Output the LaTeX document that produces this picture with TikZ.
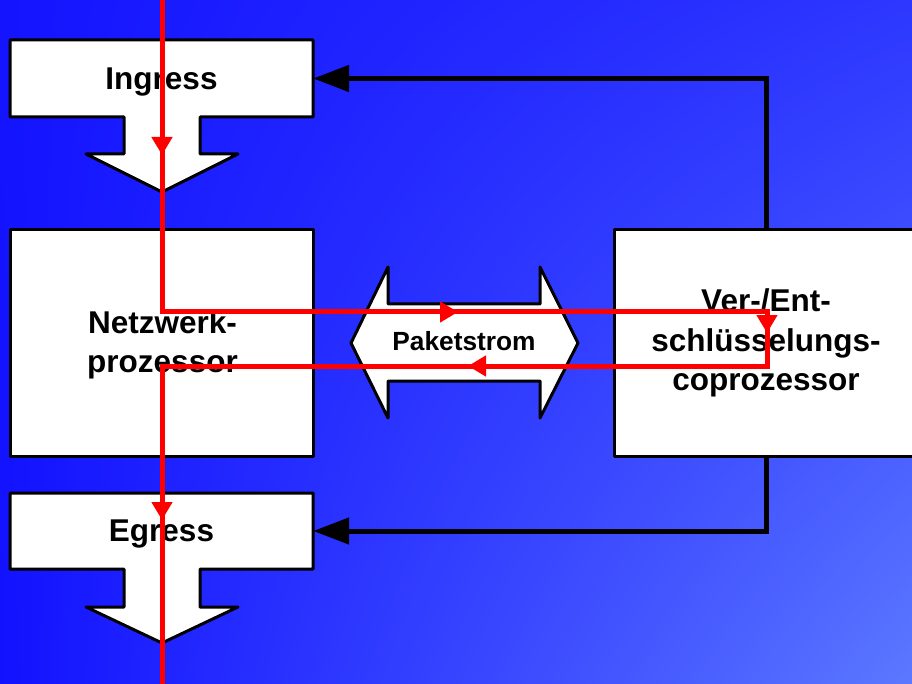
\documentclass[tikz,border=0pt]{standalone}
\usepackage{fontspec}
\setmainfont{Liberation Sans}
\usetikzlibrary{arrows.meta,shadings}
\newcommand\dgbig{\fontsize{31.5}{39.5}\selectfont\bfseries}
\newcommand\dgsmall{\fontsize{26.3}{30}\selectfont\bfseries}
\definecolor{bgUL}{RGB}{20,20,255}
\definecolor{bgUR}{RGB}{45,55,255}
\definecolor{bgLL}{RGB}{18,18,255}
\definecolor{bgLR}{RGB}{92,120,255}
\begin{document}
\begin{tikzpicture}[x=1pt,y=-1pt,
  shapeline/.style={draw=black, line width=3pt, fill=white, line join=round},
  blockbox/.style={shapeline, minimum width=303pt, minimum height=226pt, inner sep=0pt, align=center, font=\dgbig},
  labelbox/.style={draw=none, minimum width=303pt, minimum height=77pt, inner sep=0pt, text depth=0pt, font=\dgbig},
  feedback/.style={draw=black, line width=5pt, -{Triangle[length=36pt,width=26pt]}},
  flow/.style={draw=red, line width=5pt, line join=miter},
  flowtip/.style={draw=red, line width=5pt, -{Triangle[length=18pt,width=20pt]}}
]
\useasboundingbox (0,0) rectangle (912,684);
\shade[upper left=bgUL, upper right=bgUR, lower left=bgLL, lower right=bgLR] (0,0) rectangle (912,684);

% Ingress
\path[shapeline] (10,40) -- (313,40) -- (313,117) -- (200,117) -- (200,154) -- (238,154) -- (162,192) -- (86,154) -- (124,154) -- (124,117) -- (10,117) -- cycle;
\node[labelbox] (ingress) at (161.5,78.5) {Ingress};

% Egress
\path[shapeline] (10,493) -- (313,493) -- (313,569) -- (200,569) -- (200,607) -- (238,607) -- (162,643) -- (86,607) -- (124,607) -- (124,569) -- (10,569) -- cycle;
\node[labelbox] (egress) at (161.5,531) {Egress};

% Blocks
\node[blockbox] (netz) at (161.5,343) {};
\node[font=\dgbig, align=center, inner sep=0pt] (netztext) at (162.5,345) {Netzwerk-\\prozessor};
\node[blockbox, minimum width=304pt] (crypto) at (766,343) {Ver-/Ent-\\schlüsselungs-\\coprozessor};

% Paketstrom double arrow
\path[shapeline] (351,343) -- (388,267) -- (388,304) -- (540,304) -- (540,267) -- (578,343) -- (540,418) -- (540,381) -- (388,381) -- (388,418) -- cycle;
\node[font=\dgsmall, text depth=0pt, inner sep=0pt] (paket) at (464,341) {Paketstrom};

% feedback connectors
\draw[feedback] (crypto.north) |- (ingress.east);
\draw[feedback] (crypto.south) |- (egress.east);

% red packet flow
\coordinate (rtop) at (162,-3);
\coordinate (rbot) at (162,690);
\coordinate (rc1) at (767,312);
\coordinate (rc2) at (162,366);
\draw[flow] (rtop) |- (rc1) |- (rc2) -- (rbot);
\draw[flowtip] (162,130) -- (162,155);
\draw[flowtip] (430,312) -- (458,312);
\draw[flowtip] (767,312) -- (767,333);
\draw[flowtip] (495,366) -- (468,366);
\draw[flowtip] (162,495) -- (162,520);
\end{tikzpicture}
\end{document}
